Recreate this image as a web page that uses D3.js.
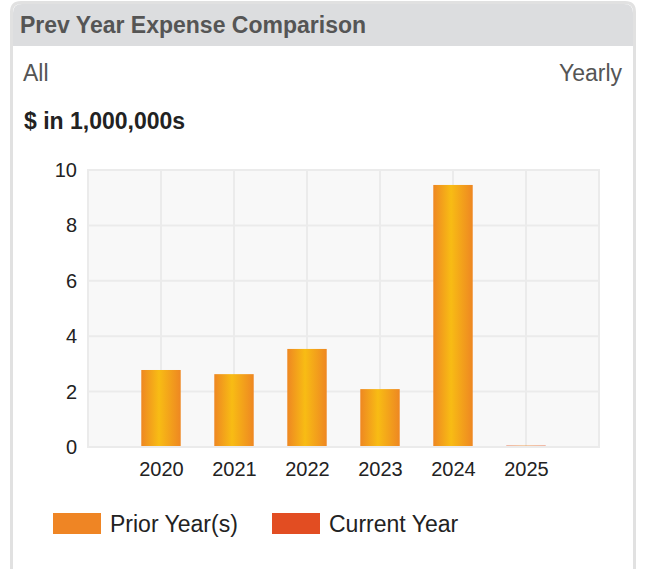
<!DOCTYPE html>
<html>
<head>
<meta charset="utf-8">
<script src="https://cdn.jsdelivr.net/npm/d3@7"></script>
<style>
  body { margin: 0; background: #fff; font-family: "Liberation Sans", Arial, sans-serif; }
</style>
</head>
<body>
<svg id="chart" width="646" height="569"></svg>
<script>
const years = ["2020", "2021", "2022", "2023", "2024", "2025"];
const expenses = [2.78, 2.63, 3.54, 2.09, 9.46, 0.05];
const currentYear = "2025";
const yTicks = [0, 2, 4, 6, 8, 10];
const legendItems = ["Prior Year(s)", "Current Year"];

const PLOT = { left: 88, right: 599, top: 170, bottom: 447 };

const svg = d3.select("#chart");
const defs = svg.append("defs");

const addGradient = (id, edge, mid) => {
  const g = defs.append("linearGradient").attr("id", id)
    .attr("x1", "0%").attr("x2", "100%").attr("y1", "0%").attr("y2", "0%");
  g.append("stop").attr("offset", "0%").attr("stop-color", edge);
  g.append("stop").attr("offset", "45%").attr("stop-color", mid);
  g.append("stop").attr("offset", "100%").attr("stop-color", edge);
};
addGradient("prior", "#ee8722", "#f8bc14");
addGradient("current", "#e24d22", "#f08a24");

// card
svg.append("path")
  .attr("d", "M11.5,569 V12 Q11.5,2.5 21,2.5 H625 Q634.5,2.5 634.5,12 V569")
  .attr("fill", "#fff").attr("stroke", "#e1e1e1").attr("stroke-width", 3);
svg.append("path")
  .attr("d", "M13,46 V13 Q13,4 22,4 H624 Q633,4 633,13 V46 Z")
  .attr("fill", "#dcdddf");

svg.append("text").attr("x", 20).attr("y", 33)
  .attr("font-size", 23).attr("font-weight", "bold").attr("fill", "#555")
  .text("Prev Year Expense Comparison");
svg.append("text").attr("x", 23).attr("y", 81)
  .attr("font-size", 23).attr("fill", "#555").text("All");
svg.append("text").attr("x", 622).attr("y", 81).attr("text-anchor", "end")
  .attr("font-size", 23).attr("fill", "#555").text("Yearly");
svg.append("text").attr("x", 24).attr("y", 129)
  .attr("font-size", 23).attr("font-weight", "bold").attr("fill", "#222")
  .text("$ in 1,000,000s");

const x = d3.scalePoint().domain(years).range([PLOT.left, PLOT.right]).padding(1);
const y = d3.scaleLinear().domain([0, 10]).range([PLOT.bottom, PLOT.top]);
const barWidth = x.step() * 0.54;

const g = svg.append("g");
g.append("rect")
  .attr("x", PLOT.left).attr("y", PLOT.top)
  .attr("width", PLOT.right - PLOT.left).attr("height", PLOT.bottom - PLOT.top)
  .attr("fill", "#f8f8f8").attr("stroke", "#ebebeb").attr("stroke-width", 2);

// grid
g.selectAll(".hgrid").data(yTicks).join("line")
  .attr("x1", PLOT.left).attr("x2", PLOT.right)
  .attr("y1", d => y(d)).attr("y2", d => y(d))
  .attr("stroke", "#ebebeb").attr("stroke-width", 2);
g.selectAll(".vgrid").data(years).join("line")
  .attr("x1", d => x(d)).attr("x2", d => x(d))
  .attr("y1", PLOT.top).attr("y2", PLOT.bottom)
  .attr("stroke", "#ebebeb").attr("stroke-width", 2);

// axes
const yAxis = g.append("g").attr("transform", `translate(${PLOT.left},0)`)
  .call(d3.axisLeft(y).tickValues(yTicks).tickSize(0).tickPadding(11));
const xAxis = g.append("g").attr("transform", `translate(0,${PLOT.bottom})`)
  .call(d3.axisBottom(x).tickSize(0).tickPadding(15));
[yAxis, xAxis].forEach(a => {
  a.select(".domain").remove();
  a.selectAll("text").attr("font-size", 20).attr("fill", "#222")
    .attr("font-family", "'Liberation Sans', Arial, sans-serif");
});

// bars
g.selectAll(".bar").data(years).join("rect")
  .attr("x", d => x(d) - barWidth / 2)
  .attr("width", barWidth)
  .attr("y", (d, i) => y(expenses[i]))
  .attr("height", (d, i) => y(0) - y(expenses[i]) - 1)
  .attr("fill", d => d === currentYear ? "url(#current)" : "url(#prior)");

// legend
const legendColors = ["#ef8524", "#e24d22"];
const legendX = [53, 272];
const legend = svg.append("g").selectAll("g").data(legendItems).join("g")
  .attr("transform", (d, i) => `translate(${legendX[i]},513)`);
legend.append("rect").attr("width", 48).attr("height", 21)
  .attr("fill", (d, i) => legendColors[i]);
legend.append("text").attr("x", 57).attr("y", 19)
  .attr("font-size", 23).attr("fill", "#222").text(d => d);
</script>
</body>
</html>
